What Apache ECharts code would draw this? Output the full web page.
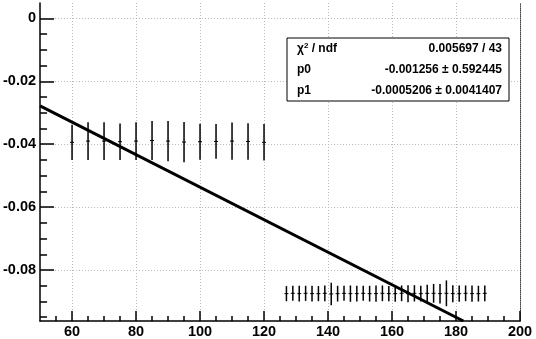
<!DOCTYPE html>
<html>
<head>
<meta charset="utf-8">
<script src="https://cdn.jsdelivr.net/npm/echarts@6/dist/echarts.min.js"></script>
<style>
  html, body { margin: 0; padding: 0; background: #fff; }
  #chart { width: 536px; height: 339px; }
</style>
</head>
<body>
<div id="chart"></div>
<script>
// axis ranges and ticks
const xRange = [50, 200];
const yRange = [-0.0962, 0.0049];
const xMajorTicks = [60, 80, 100, 120, 140, 160, 180, 200];
const xMinorTicks = [55, 60, 65, 70, 75, 80, 85, 90, 95, 100, 105, 110, 115, 120, 125, 130, 135, 140,
                     145, 150, 155, 160, 165, 170, 175, 180, 185, 190, 195, 200];
const yMajorTicks = [-0.08, -0.06, -0.04, -0.02, 0];
const yMinorTicks = [-0.095, -0.09, -0.085, -0.08, -0.075, -0.07, -0.065, -0.06, -0.055, -0.05, -0.045,
                     -0.04, -0.035, -0.03, -0.025, -0.02, -0.015, -0.01, -0.005, 0];

// fitted line (end points)
const fitX = [50, 182.3];
const fitY = [-0.0278, -0.0962];

// first group of points
const g1X = [60, 65, 70, 75, 80, 85, 90, 95, 100, 105, 110, 115, 120];
const g1Y = [-0.0394, -0.0390, -0.0390, -0.0392, -0.0390, -0.0388, -0.0390, -0.0393, -0.0392, -0.0391, -0.0390, -0.0391, -0.0394];
const g1E = [0.0056, 0.0060, 0.0060, 0.0058, 0.0060, 0.0062, 0.0064, 0.0064, 0.0057, 0.0055, 0.0059, 0.0058, 0.0058];

// second group of points
const g2X = [127, 129, 131, 133, 135, 137, 139, 141, 143, 145, 147, 149, 151, 153, 155, 157,
             159, 161, 163, 165, 167, 169, 171, 173, 175, 177, 179, 181, 183, 185, 187, 189];
const g2Y = [-0.0875, -0.0874, -0.0875, -0.0874, -0.0875, -0.0875, -0.0874, -0.0876, -0.0875, -0.0874, -0.0875, -0.0875,
             -0.0874, -0.0875, -0.0875, -0.0874, -0.0875, -0.0875, -0.0874, -0.0875, -0.0874, -0.0875, -0.0874, -0.0874,
             -0.0875, -0.0874, -0.0875, -0.0875, -0.0874, -0.0875, -0.0875, -0.0874];
const g2E = [0.0024, 0.0024, 0.0025, 0.0024, 0.0025, 0.0024, 0.0025, 0.0036, 0.0025, 0.0024, 0.0026, 0.0025,
             0.0024, 0.0025, 0.0026, 0.0025, 0.0024, 0.0026, 0.0025, 0.0027, 0.0026, 0.0025, 0.0027, 0.0030,
             0.0031, 0.0041, 0.0027, 0.0026, 0.0025, 0.0026, 0.0025, 0.0025];

// fit box
const statNames = ['χ² / ndf', 'p0', 'p1'];
const statValues = ['0.005697 / 43', '-0.001256 ± 0.592445', '-0.0005206 ± 0.0041407'];

const font = '"Liberation Sans", Arial, Helvetica, sans-serif';

const pointRows = [];
g1X.forEach((x, i) => pointRows.push([x, g1Y[i], g1E[i]]));
g2X.forEach((x, i) => pointRows.push([x, g2Y[i], g2E[i]]));

var myChart = echarts.init(document.getElementById('chart'), null, { renderer: 'canvas' });

const gridLine = { show: true, lineStyle: { color: '#b8b8b8', type: [1, 2], width: 1 } };
const labelStyle = { color: '#000', fontFamily: font, fontWeight: 'bold', fontSize: 14.5 };
const tickStyle = { color: '#000', width: 1.5 };

// box rows
const boxX = 287, boxY = 38, boxW = 222, boxH = 63;
const boxItems = [{
    type: 'rect',
    shape: { x: boxX, y: boxY, width: boxW, height: boxH },
    style: { fill: '#fff', stroke: '#000', lineWidth: 1 },
    z: 100
}];
statNames.forEach((name, i) => {
    const cy = boxY + boxH / 6 + i * boxH / 3;
    let nameText = name;
    if (i === 0) nameText = '{a|χ}{s|2}{a| / ndf}';
    boxItems.push({
        type: 'text', x: boxX + 10, y: cy, z: 101,
        style: {
            text: nameText, fill: '#000', font: 'bold 12px ' + font, verticalAlign: 'middle',
            rich: {
                a: { fontFamily: font, fontWeight: 'bold', fontSize: 12, lineHeight: 14 },
                s: { fontFamily: font, fontWeight: 'bold', fontSize: 8, lineHeight: 14, verticalAlign: 'top' }
            }
        }
    });
    boxItems.push({
        type: 'text', x: boxX + boxW - 7, y: cy, z: 101,
        style: { text: statValues[i], fill: '#000', font: 'bold 12px ' + font, align: 'right', verticalAlign: 'middle' }
    });
});

let option = {
    animation: false,
    backgroundColor: '#fff',
    grid: { left: 40, right: 16, top: 3, bottom: 18 },
    xAxis: [
        {
            type: 'value', min: xRange[0], max: xRange[1], position: 'bottom',
            axisLine: { show: true, onZero: false, lineStyle: tickStyle },
            axisTick: { show: true, inside: true, length: 10, customValues: xMajorTicks, lineStyle: tickStyle },
            axisLabel: Object.assign({ customValues: xMajorTicks, margin: 3 }, labelStyle),
            splitLine: gridLine
        },
        {
            type: 'value', min: xRange[0], max: xRange[1], position: 'bottom',
            axisLine: { show: false, onZero: false },
            axisTick: { show: true, inside: true, length: 5, customValues: xMinorTicks, lineStyle: tickStyle },
            axisLabel: { show: false },
            splitLine: { show: false }
        }
    ],
    yAxis: [
        {
            type: 'value', min: yRange[0], max: yRange[1], position: 'left',
            axisLine: { show: true, onZero: false, lineStyle: tickStyle },
            axisTick: { show: true, inside: true, length: 14, customValues: yMajorTicks, lineStyle: tickStyle },
            axisLabel: Object.assign({ customValues: yMajorTicks, margin: 4 }, labelStyle),
            splitLine: gridLine
        },
        {
            type: 'value', min: yRange[0], max: yRange[1], position: 'left',
            axisLine: { show: false, onZero: false },
            axisTick: { show: true, inside: true, length: 7, customValues: yMinorTicks, lineStyle: tickStyle },
            axisLabel: { show: false },
            splitLine: { show: false }
        },
        {
            type: 'value', min: yRange[0], max: yRange[1], position: 'right',
            axisLine: { show: true, onZero: false, lineStyle: { color: '#444', width: 1, type: [1, 1] } },
            axisTick: { show: false },
            axisLabel: { show: false },
            splitLine: { show: false }
        }
    ],
    series: [
        {
            type: 'custom',
            xAxisIndex: 0, yAxisIndex: 0,
            data: pointRows,
            encode: { x: 0, y: 1 },
            renderItem: function (params, api) {
                const x = api.value(0), y = api.value(1), e = api.value(2);
                const top = api.coord([x, y + e]);
                const bot = api.coord([x, y - e]);
                const mid = api.coord([x, y]);
                return {
                    type: 'group',
                    children: [
                        { type: 'line', shape: { x1: top[0], y1: top[1], x2: bot[0], y2: bot[1] }, style: { stroke: '#000', lineWidth: 1.5 } },
                        { type: 'line', shape: { x1: mid[0] - 2, y1: mid[1], x2: mid[0] + 2, y2: mid[1] }, style: { stroke: '#000', lineWidth: 1 } }
                    ]
                };
            },
            z: 3
        },
        {
            type: 'line',
            xAxisIndex: 0, yAxisIndex: 0,
            data: fitX.map((x, i) => [x, fitY[i]]),
            symbol: 'none',
            lineStyle: { color: '#000', width: 3 },
            z: 4
        }
    ],
    graphic: boxItems
};

option && myChart.setOption(option);
</script>
</body>
</html>
